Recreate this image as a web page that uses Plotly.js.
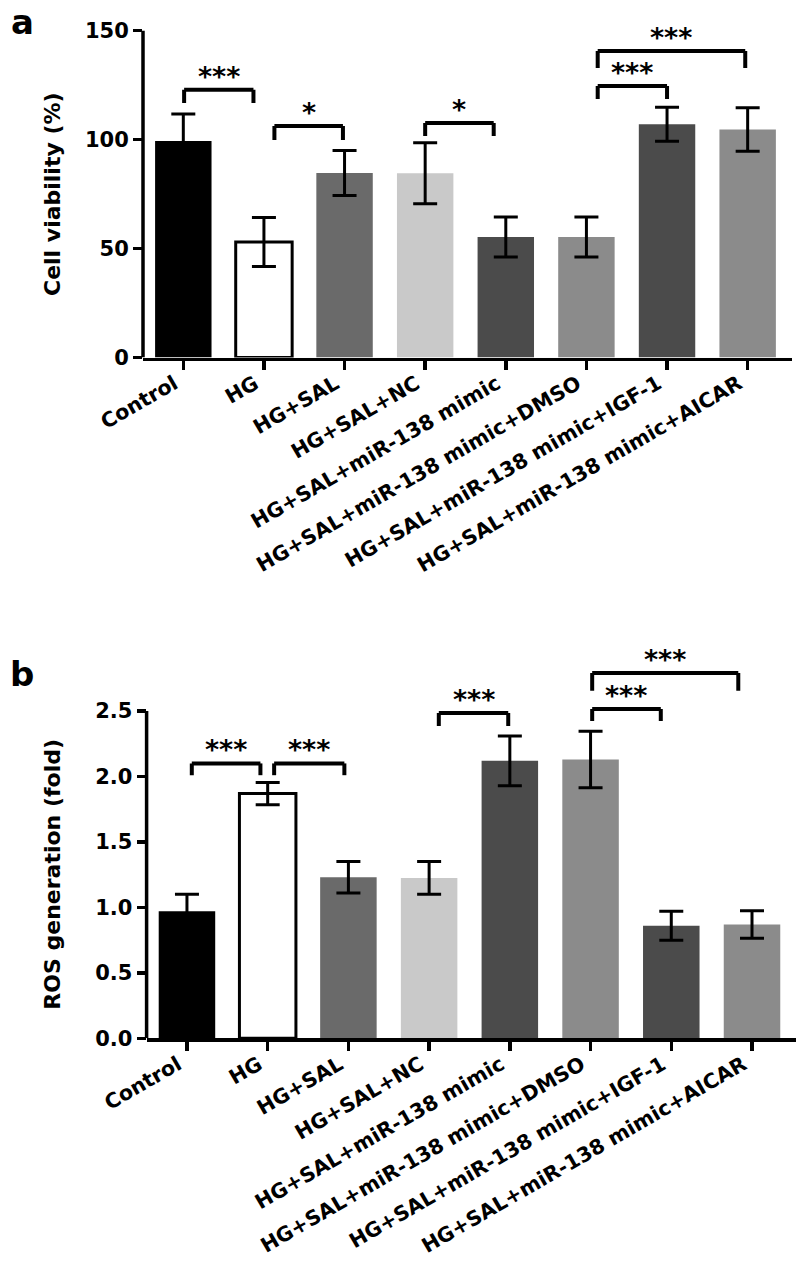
<!DOCTYPE html>
<html>
<head>
<meta charset="utf-8">
<script src="https://cdn.plot.ly/plotly-3.0.1.min.js"></script>
<style>html,body{margin:0;padding:0;background:#fff;}#chart{width:800px;height:1266px;}</style>
</head>
<body>
<div id="chart"></div>
<script>
// ---- data ----
const categories = ['Control', 'HG', 'HG+SAL', 'HG+SAL+NC', 'HG+SAL+miR-138 mimic',
  'HG+SAL+miR-138 mimic+DMSO', 'HG+SAL+miR-138 mimic+IGF-1', 'HG+SAL+miR-138 mimic+AICAR'];
const viability = [99.3, 53.0, 84.6, 84.5, 55.3, 55.3, 107.0, 104.6];
const viabilityErr = [12.4, 11.2, 10.3, 14.0, 9.2, 9.2, 7.8, 10.0];
const ros = [0.97, 1.87, 1.23, 1.225, 2.12, 2.13, 0.86, 0.87];
const rosErr = [0.13, 0.085, 0.12, 0.125, 0.19, 0.215, 0.11, 0.105];
const viabilityTicks = [0, 50, 100, 150];
const rosTicks = [0, 0.5, 1.0, 1.5, 2.0, 2.5];
const titleA = 'Cell viability (%)';
const titleB = 'ROS generation (fold)';
// significance brackets: [left position, right position, top level, leg end level, label]
const bracketsA = [
  [0.01, 0.87, 122.8, 116.7, '***'],
  [1.13, 1.98, 106.2, 99.8, '*'],
  [3.00, 3.85, 107.6, 101.6, '*'],
  [5.14, 6.00, 124.5, 118.6, '***'],
  [5.14, 6.97, 140.6, 132.8, '***']
];
const bracketsB = [
  [0.06, 0.91, 2.10, 2.01, '***'],
  [1.08, 1.95, 2.10, 2.01, '***'],
  [3.12, 3.98, 2.485, 2.385, '***'],
  [5.02, 5.87, 2.515, 2.425, '***'],
  [5.02, 6.83, 2.79, 2.655, '***']
];

// ---- styles ----
const barColors = ['#000000', '#ffffff', '#6a6a6a', '#c9c9c9', '#4b4b4b', '#8b8b8b', '#4b4b4b', '#8b8b8b'];
const barLineWidths = [0, 3, 0, 0, 0, 0, 0, 0];
const FONT = 'DejaVu Sans';
const W = 800, H = 1266;

function barTrace(vals, errs, xa, ya) {
  return {
    type: 'bar', x: categories, y: vals, xaxis: xa, yaxis: ya, width: 0.7,
    marker: { color: barColors, line: { color: '#000', width: barLineWidths } },
    error_y: { type: 'data', array: errs, visible: true, color: '#000', thickness: 3, width: 12 },
    hoverinfo: 'x+y'
  };
}

const shapes = [];
const annotations = [];
function addBrackets(list, xref, yref, shift) {
  list.forEach(b => {
    const [x0, x1, top, leg, lbl] = b;
    const line = { color: '#000', width: 4 };
    shapes.push({ type: 'line', xref, yref, x0: x0, x1: x0, y0: leg, y1: top, line });
    shapes.push({ type: 'line', xref, yref, x0: x0, x1: x1, y0: top, y1: top, line });
    shapes.push({ type: 'line', xref, yref, x0: x1, x1: x1, y0: top, y1: leg, line });
    annotations.push({ xref, yref, x: (x0 + x1) / 2, y: top, text: lbl, showarrow: false,
      xanchor: 'center', yanchor: 'bottom', yshift: shift,
      font: { family: FONT, size: 27, color: '#000', weight: 'bold' } });
  });
}
addBrackets(bracketsA, 'x', 'y', -4);
addBrackets(bracketsB, 'x2', 'y2', -4);

// y axis lines stopping at the top tick
shapes.push({ type: 'line', xref: 'x domain', yref: 'y', x0: 0, x1: 0, y0: 0,
  y1: viabilityTicks[viabilityTicks.length - 1], line: { color: '#000', width: 3.5 } });
shapes.push({ type: 'line', xref: 'x2 domain', yref: 'y2', x0: 0, x1: 0, y0: 0,
  y1: rosTicks[rosTicks.length - 1], line: { color: '#000', width: 3.5 } });

const titleFont = { family: FONT, size: 22, color: '#000', weight: 'bold' };
// axis titles, centred on the drawn axis line
annotations.push({ xref: 'paper', yref: 'y', x: 52 / W, y: viabilityTicks[viabilityTicks.length - 1] / 2,
  text: titleA, textangle: -90, showarrow: false, xanchor: 'center', yanchor: 'middle', font: titleFont });
annotations.push({ xref: 'paper', yref: 'y2', x: 53 / W, y: rosTicks[rosTicks.length - 1] / 2,
  text: titleB, textangle: -90, showarrow: false, xanchor: 'center', yanchor: 'middle', font: titleFont });

annotations.push({ xref: 'paper', yref: 'paper', x: 22 / W, y: 1 - 22 / H, text: 'a', showarrow: false,
  xanchor: 'center', yanchor: 'middle', font: { family: FONT, size: 34, color: '#000', weight: 'bold' } });
annotations.push({ xref: 'paper', yref: 'paper', x: 22 / W, y: 1 - 674 / H, text: 'b', showarrow: false,
  xanchor: 'center', yanchor: 'middle', font: { family: FONT, size: 34, color: '#000', weight: 'bold' } });

const tickFont = { family: FONT, size: 21, color: '#000', weight: 'bold' };
const catFont = { family: FONT, size: 20.5, color: '#000', weight: 'bold' };

function xAxis(domain, anchor) {
  return { domain, anchor, type: 'category', range: [-0.5, 7.55], showline: true, linecolor: '#000',
    linewidth: 3.5, ticks: 'outside', ticklen: 9, tickwidth: 3.5, tickcolor: '#000',
    tickangle: -30, tickfont: catFont, ticklabelstandoff: -6, ticklabelshift: -9,
    showgrid: false, zeroline: false, fixedrange: true };
}
function yAxis(domain, anchor, range, ticks, fmt) {
  return { domain, anchor, range, tickvals: ticks, tickformat: fmt, showline: false,
    ticks: 'outside', ticklen: 9, tickwidth: 3.5, tickcolor: '#000', tickfont: tickFont,
    showgrid: false, zeroline: false, fixedrange: true };
}

const layout = {
  width: W, height: H, margin: { l: 0, r: 0, t: 0, b: 0 },
  paper_bgcolor: '#fff', plot_bgcolor: '#fff', showlegend: false, bargap: 0.3,
  xaxis: xAxis([143 / W, 792 / W], 'y'),
  yaxis: yAxis([1 - 357.5 / H, 1 - 30.5 / H], 'x', [0, 150], viabilityTicks, 'd'),
  xaxis2: xAxis([146.6 / W, 796.4 / W], 'y2'),
  yaxis2: yAxis([1 - 1038.3 / H, 1 - 658.7 / H], 'x2', [0, 2.9], rosTicks, '.1f'),
  shapes, annotations
};

Plotly.newPlot('chart', [barTrace(viability, viabilityErr, 'x', 'y'), barTrace(ros, rosErr, 'x2', 'y2')],
  layout, { displayModeBar: false, staticPlot: true });
</script>
</body>
</html>
